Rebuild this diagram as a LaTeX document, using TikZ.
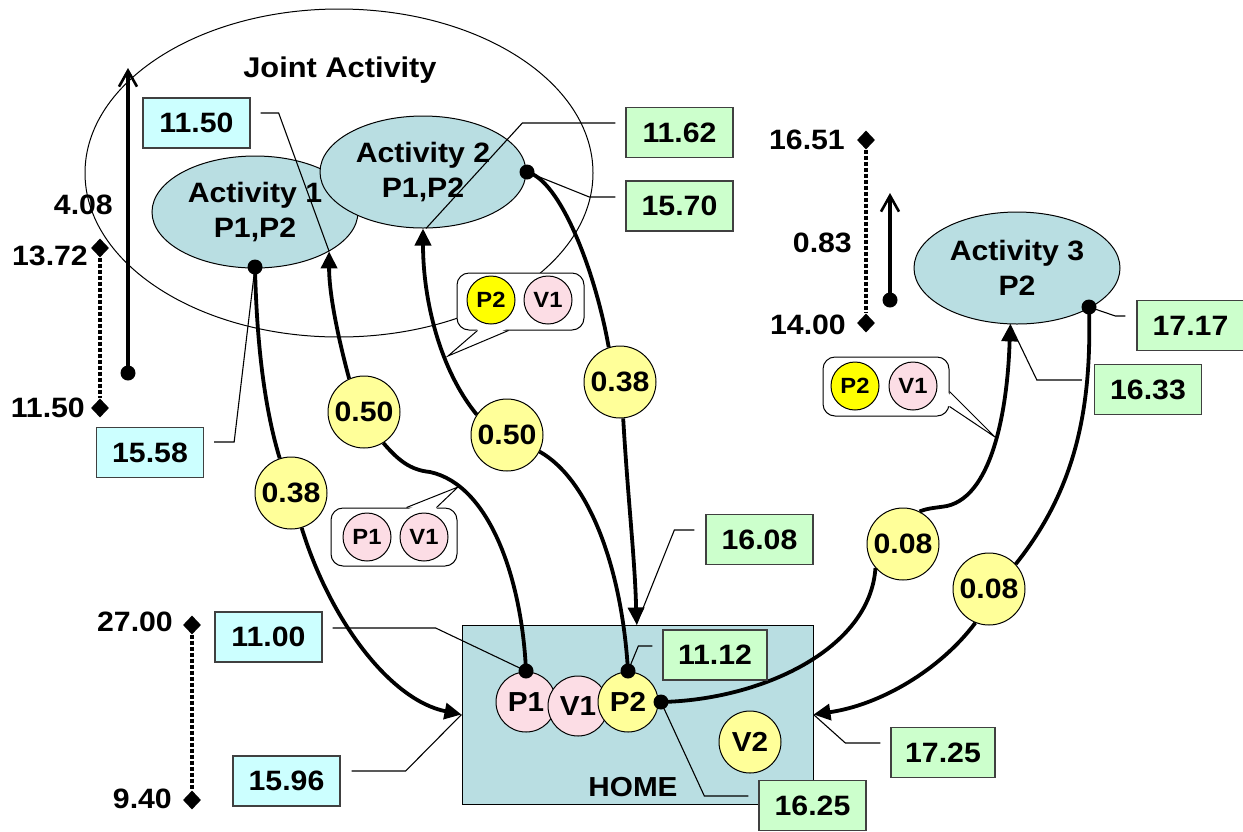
\documentclass[tikz,border=0pt]{standalone}
\usepackage{fontspec}
\setmainfont{Liberation Sans}[FakeStretch=1.08]
\usetikzlibrary{arrows.meta,shapes.geometric,calc}
\definecolor{teal1}{RGB}{185,222,226}
\definecolor{cyanb}{RGB}{204,255,255}
\definecolor{greenb}{RGB}{204,255,204}
\definecolor{paley}{RGB}{255,255,153}
\definecolor{pinkc}{RGB}{252,221,229}
\definecolor{yel}{RGB}{255,255,0}
\definecolor{boxb}{RGB}{64,64,64}
\begin{document}
\begin{tikzpicture}[x=1pt,y=-1pt,
  act/.style={ellipse, draw=black, line width=1pt, fill=teal1, minimum width=206pt, minimum height=112pt, inner sep=0pt, align=center, font=\fontsize{28}{35}\selectfont\bfseries},
  lab/.style={circle, draw=black, line width=1pt, fill=paley, minimum size=72pt, inner sep=0pt, font=\fontsize{28}{30}\selectfont\bfseries},
  cbox/.style={draw=boxb, line width=1.3pt, fill=cyanb, minimum width=107pt, minimum height=50pt, inner sep=0pt, font=\fontsize{28}{30}\selectfont\bfseries},
  gbox/.style={cbox, fill=greenb},
  conn/.style={line width=3.8pt},
  arr/.style={-{Triangle[length=17pt,width=16pt]}},
  lead/.style={line width=1.1pt},
  diam/.style={diamond, fill=black, minimum width=18pt, minimum height=19pt, inner sep=0pt},
  scl/.style={line width=3.8pt, dash pattern=on 4pt off 2pt},
  num/.style={font=\fontsize{28}{30}\selectfont\bfseries, inner sep=0pt},
  hc/.style={circle, draw=black, line width=1pt, minimum size=60pt, inner sep=0pt, font=\fontsize{27.5}{30}\selectfont\bfseries},
  sc/.style={circle, draw=black, line width=1pt, minimum size=48pt, inner sep=0pt, font=\fontsize{22}{24}\selectfont\bfseries},
  callout/.style={draw=black, line width=1pt, fill=white, rounded corners=12pt, inner sep=0pt},
  barb/.style={line width=3.8pt, -{Straight Barb[length=16pt,width=18pt,line width=2.6pt]}}
]
\useasboundingbox (0,0) rectangle (1243,831);

% joint activity
\node[ellipse, draw=black, line width=1pt, minimum width=508pt, minimum height=328pt, inner sep=0pt] (joint) at (339,173) {};
\node[num, font=\fontsize{28.5}{30}\selectfont\bfseries] (jtxt) at (340,70) {Joint Activity};

% activities
\node[act] (a1) at (255,212) {Activity 1\\P1,P2};
\node[act] (a2) at (423,172) {Activity 2\\P1,P2};
\node[act] (a3) at (1017,268) {Activity 3\\P2};

% home
\node[draw=black, line width=1pt, fill=teal1, minimum width=351pt, minimum height=179pt, inner sep=0pt] (home) at (637.5,714.5) {};
\node[num, font=\fontsize{27.5}{30}\selectfont\bfseries] (hometxt) at (633,787) {HOME};
\node[hc, fill=pinkc] (hp1) at (526,702) {P1};
\node[hc, fill=pinkc] (hv1) at (578,706) {V1};
\node[hc, fill=paley] (hp2) at (628,702) {P2};
\node[hc, fill=paley, minimum size=62pt] (hv2) at (750,742) {V2};

% coordinates for dots and arrow ends
\coordinate (a1d) at (255,267);
\coordinate (a2d) at (527,172);
\coordinate (a3d) at (1089,307);
\coordinate (p1d) at (526,671);
\coordinate (p2d) at (628,671);
\coordinate (p2r) at (661,702);
\coordinate (a1in) at (a1.-28);
\coordinate (a3in) at (a3.-97);
\coordinate (htop) at ($(home.north west)+(175,0)$);

% labels
\node[lab] (l1) at (291,493) {0.38};
\node[lab] (l2) at (364,412) {0.50};
\node[lab] (l3) at (507,435) {0.50};
\node[lab] (l4) at (620,382) {0.38};
\node[lab] (l5) at (903,544) {0.08};
\node[lab] (l6) at (989,589) {0.08};

% callouts
\node[callout, minimum width=127pt, minimum height=57pt] (cA) at (520.5,301.5) {};
\node[sc, fill=yel] (cAp) at (491,300) {P2};
\node[sc, fill=pinkc] (cAv) at (548,300) {V1};
\coordinate (tA) at (448,356);
\fill[white] ($(cA.south west)+(22,-2)$) -- (tA) -- ($(cA.south west)+(51,-2)$) -- cycle;
\draw[line width=1pt] ($(cA.south west)+(21,0)$) -- (tA) -- ($(cA.south west)+(52,0)$);

\node[callout, minimum width=126pt, minimum height=58pt] (cB) at (394,537) {};
\node[sc, fill=pinkc] (cBp) at (367,537) {P1};
\node[sc, fill=pinkc] (cBv) at (424,537) {V1};
\coordinate (tB) at (458,487);
\fill[white] ($(cB.north west)+(77,2)$) -- (tB) -- ($(cB.north west)+(105,2)$) -- cycle;
\draw[line width=1pt] ($(cB.north west)+(76,0)$) -- (tB) -- ($(cB.north west)+(106,0)$);

\node[callout, minimum width=126pt, minimum height=59pt] (cC) at (886,386.5) {};
\node[sc, fill=yel] (cCp) at (855,386) {P2};
\node[sc, fill=pinkc] (cCv) at (913,386) {V1};
\coordinate (tC) at (995,437);
\fill[white] ($(cC.north east)+(-2,36)$) -- (tC) -- ($(cC.north east)+(-2,49)$) -- cycle;
\draw[line width=1pt] ($(cC.north east)+(0,35)$) -- (tC) -- ($(cC.north east)+(0,50)$);

% connectors
\draw[conn] (a1d) .. controls (257,360) and (268,420) .. (l1.108);
\draw[conn,arr] (l1.-73) .. controls (330,620) and (390,700) .. (home.west);

\draw[conn] (p1d) .. controls (522,580) and (490,485) .. (430,472) .. controls (410,470) and (398,460) .. (l2.-58);
\draw[conn,arr] (l2.114) .. controls (336,330) and (329,290) .. (a1in);

\draw[conn] (p2d) .. controls (622,570) and (590,480) .. (l3.-27);
\draw[conn,arr] (l3.146) .. controls (440,370) and (423,300) .. (a2.south);

\draw[conn] (a2d) .. controls (560,180) and (595,270) .. (l4.108);
\draw[conn,arr] (l4.-85) .. controls (628,500) and (635,560) .. (htop);

\draw[conn] (p2r) .. controls (760,700) and (870,650) .. (l5.221);
\draw[conn,arr] (l5.63) .. controls (928,508) and (935,508) .. (947,506) .. controls (995,495) and (1008,400) .. (a3in);

\draw[conn] (a3d) .. controls (1092,410) and (1075,490) .. (l6.43);
\draw[conn,arr] (l6.248) .. controls (940,670) and (880,705) .. (home.east);

% boxes
\node[cbox] (b1150) at (196.5,123) {11.50};
\node[cbox] (b1558) at (150,452.5) {15.58};
\node[cbox] (b1100) at (268.5,637) {11.00};
\node[cbox] (b1596) at (286.5,781) {15.96};
\node[gbox] (b1162) at (679.5,132.5) {11.62};
\node[gbox] (b1570) at (679.5,206) {15.70};
\node[gbox] (b1717) at (1190.5,325.5) {17.17};
\node[gbox] (b1633) at (1148,389.5) {16.33};
\node[gbox] (b1608) at (759.5,539.5) {16.08};
\node[gbox, minimum width=104pt] (b1112) at (715,655) {11.12};
\node[gbox] (b1625) at (812.5,805.5) {16.25};
\node[gbox, minimum width=104pt] (b1725) at (943,752.5) {17.25};

% leaders
\draw[lead] ($(b1150.east)+(10,-10)$) -- ++(18,0) -- (a1in);
\draw[lead] ($(b1558.east)+(10,-10.5)$) -- ++(20,0) -- (a1d);
\draw[lead] ($(b1100.east)+(10,-9)$) -- ++(103,0) -- (p1d);
\draw[lead] ($(b1596.east)+(11,-10)$) -- ++(54,0) -- (home.west);
\draw[lead] ($(b1162.west)+(-10,-9.5)$) -- ++(-93,0) -- (a2.-87);
\draw[lead] ($(b1570.west)+(-10,-9)$) -- ++(-26,0) -- (a2d);
\draw[lead] ($(b1717.west)+(-11,-9.5)$) -- ++(-10,0) -- (a3d);
\draw[lead] ($(b1633.west)+(-12,-9.5)$) -- ++(-45,0) -- (a3in);
\draw[lead] ($(b1608.west)+(-11,-9.5)$) -- ++(-20,0) -- (htop);
\draw[lead] ($(b1112.west)+(-10,-9)$) -- ++(-14,0) -- (p2d);
\draw[lead] ($(b1625.west)+(-10,-9.5)$) -- ++(-44,0) -- (p2r);
\draw[lead] ($(b1725.west)+(-10,-9.5)$) -- ++(-35,0) -- (home.east);

% dots
\foreach \p in {a1d,a2d,a3d,p1d,p2d,p2r} \fill (\p) circle (7.5pt);

% left scale
\node[diam] (dl1) at (100,248) {};
\node[diam] (dl2) at (100,408) {};
\draw[scl] (dl1) -- (dl2);
\node[num, anchor=east] (t1372) at (88,256) {13.72};
\node[num, anchor=east] (t1150) at (85,408) {11.50};
\node[num, anchor=east] (t408) at (113,205) {4.08};
\coordinate (sd1) at (128,373);
\coordinate (st1) at (128,68);
\draw[barb] (sd1) -- (st1);
\fill (sd1) circle (7.5pt);

% right scale
\node[diam] (dr1) at (866,140) {};
\node[diam] (dr2) at (866,323) {};
\draw[scl] (dr1) -- (dr2);
\node[num, anchor=east] (t1651) at (845,140) {16.51};
\node[num, anchor=east] (t1400) at (846,325) {14.00};
\node[num, anchor=east] (t083) at (852,243) {0.83};
\coordinate (sd2) at (890,300);
\coordinate (st2) at (890,193);
\draw[barb] (sd2) -- (st2);
\fill (sd2) circle (7.5pt);

% bottom-left scale
\node[diam] (db1) at (192,625) {};
\node[diam] (db2) at (192,800) {};
\draw[scl] (db1) -- (db2);
\node[num, anchor=east] (t2700) at (173,622) {27.00};
\node[num, anchor=east] (t940) at (172,799) {9.40};
\end{tikzpicture}
\end{document}
